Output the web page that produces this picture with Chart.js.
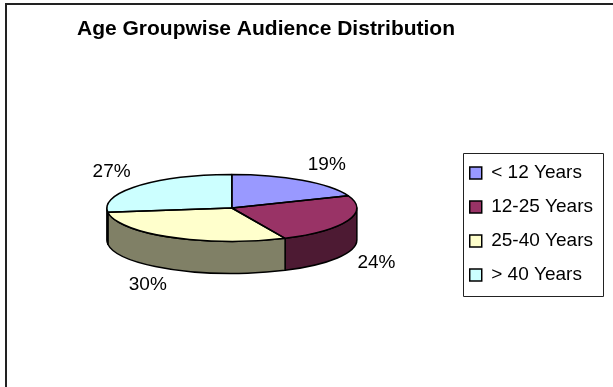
<!DOCTYPE html>
<html>
<head>
<meta charset="utf-8">
<script src="https://cdn.jsdelivr.net/npm/chart.js@4/dist/chart.umd.min.js"></script>
<style>
  html, body { margin: 0; padding: 0; background: #fff; }
  canvas { display: block; }
</style>
</head>
<body>
<canvas id="chart" width="613" height="387"></canvas>
<script>
var AGE_GROUPS = ['< 12 Years', '12-25 Years', '25-40 Years', '> 40 Years'];
var AUDIENCE_SHARE = [19, 24, 30, 27];
var TOP_COLORS = ['#9999FF', '#993366', '#FFFFCC', '#CCFFFF'];
var SIDE_COLORS = ['#4D4D80', '#4D1A33', '#808066', '#668080'];
var TITLE = 'Age Groupwise Audience Distribution';

var FONT = "'Liberation Sans', Arial, sans-serif";
var TILT = 0.268;   // ry / rx of the pie's top face
var DEPTH = 32;     // height of the side wall, px
var TITLE_X = 266, TITLE_Y = 29;

// Squash the pie into an ellipse and lift it by half the wall height.
function topTransform(ctx, arc) {
  ctx.translate(arc.x, arc.y - DEPTH / 2);
  ctx.scale(1, TILT);
  ctx.translate(-arc.x, -arc.y);
}

// Parts of [s, e] that face the viewer (lower half of the ellipse).
function frontRanges(s, e) {
  var out = [];
  [[0, Math.PI], [2 * Math.PI, 3 * Math.PI]].forEach(function (w) {
    var a = Math.max(s, w[0]), b = Math.min(e, w[1]);
    if (b > a) out.push([a, b]);
  });
  return out;
}

// Paths are built under the squashed transform but stroked without it,
// so the outline keeps an even width all the way round.
function strokeOutline(ctx) {
  ctx.lineWidth = 1.5;
  ctx.strokeStyle = '#000';
  ctx.lineJoin = 'round';
  ctx.stroke();
}

var pie3d = {
  id: 'pie3d',
  beforeDraw: function (chart) {
    var ctx = chart.ctx;
    ctx.save();
    ctx.lineWidth = 2;
    ctx.strokeStyle = '#222';
    ctx.strokeRect(6, 4, 640, 420);
    ctx.font = 'bold 21px ' + FONT;
    ctx.fillStyle = '#000';
    ctx.textAlign = 'center';
    ctx.textBaseline = 'middle';
    ctx.fillText(TITLE, TITLE_X, TITLE_Y);
    ctx.restore();
  },
  beforeDatasetsDraw: function (chart) {
    var ctx = chart.ctx;
    var arcs = chart.getDatasetMeta(0).data;
    var off = DEPTH / TILT;
    arcs.forEach(function (arc, i) {
      frontRanges(arc.startAngle, arc.endAngle).forEach(function (r) {
        ctx.save();
        topTransform(ctx, arc);
        ctx.beginPath();
        ctx.arc(arc.x, arc.y, arc.outerRadius, r[0], r[1]);
        ctx.arc(arc.x, arc.y + off, arc.outerRadius, r[1], r[0], true);
        ctx.closePath();
        ctx.restore();
        ctx.fillStyle = SIDE_COLORS[i];
        ctx.fill();
        strokeOutline(ctx);
      });
    });
    ctx.save();
    topTransform(ctx, arcs[0]);
  },
  afterDatasetsDraw: function (chart) {
    var ctx = chart.ctx;
    ctx.restore();
    var arcs = chart.getDatasetMeta(0).data;
    var data = chart.data.datasets[0].data;
    var total = data.reduce(function (a, b) { return a + b; }, 0);

    arcs.forEach(function (arc) {
      ctx.save();
      topTransform(ctx, arc);
      ctx.beginPath();
      ctx.moveTo(arc.x, arc.y);
      ctx.arc(arc.x, arc.y, arc.outerRadius, arc.startAngle, arc.endAngle);
      ctx.closePath();
      ctx.restore();
      strokeOutline(ctx);
    });

    // percentage labels just outside each slice
    ctx.save();
    ctx.font = '19px ' + FONT;
    ctx.fillStyle = '#000';
    ctx.textAlign = 'center';
    ctx.textBaseline = 'middle';
    arcs.forEach(function (arc, i) {
      var mid = (arc.startAngle + arc.endAngle) / 2;
      var c = Math.cos(mid), s = Math.sin(mid);
      var text = Math.round(data[i] / total * 100) + '%';
      var w = ctx.measureText(text).width;
      var x = arc.x + (arc.outerRadius + 10) * c + Math.sign(c) * w / 2;
      var y = arc.y - DEPTH / 2 + (arc.outerRadius * TILT + 10) * s + Math.sign(s) * 7 + (s > 0 ? DEPTH : 0);
      ctx.fillText(text, x, y);
    });
    ctx.restore();
  },
  afterDraw: function (chart) {
    var boxes = chart.legend && chart.legend.legendHitBoxes;
    if (!boxes || !boxes.length) return;
    var ctx = chart.ctx;
    var left = Math.min.apply(null, boxes.map(function (b) { return b.left; })) - 7;
    var right = Math.max.apply(null, boxes.map(function (b) { return b.left + b.width; })) + 10;
    var top = boxes[0].top - 11;
    var last = boxes[boxes.length - 1];
    var bottom = last.top + last.height + 11;
    ctx.save();
    ctx.lineWidth = 1;
    ctx.strokeStyle = '#222';
    ctx.strokeRect(Math.round(left) + 0.5, Math.round(top) + 0.5, Math.round(right - left), Math.round(bottom - top));
    ctx.restore();
  }
};

var pieLabels = Chart.DoughnutController.overrides.plugins.legend.labels.generateLabels;

new Chart(document.getElementById('chart'), {
  type: 'pie',
  data: {
    labels: AGE_GROUPS,
    datasets: [{
      data: AUDIENCE_SHARE,
      backgroundColor: TOP_COLORS,
      borderColor: '#000',
      borderWidth: 0
    }]
  },
  options: {
    responsive: false,
    animation: false,
    events: [],
    radius: 125,
    layout: { padding: { left: 9, right: 10, top: 70, bottom: 9 } },
    plugins: {
      title: { display: false },
      legend: {
        position: 'right',
        align: 'center',
        labels: {
          color: '#000',
          font: { family: FONT, size: 19 },
          boxWidth: 12,
          boxHeight: 12,
          padding: 15,
          generateLabels: function (chart) {
            return pieLabels(chart).map(function (item) {
              item.lineWidth = 1.5;
              item.strokeStyle = '#000';
              return item;
            });
          }
        }
      },
      tooltip: { enabled: false }
    }
  },
  plugins: [pie3d]
});
</script>
</body>
</html>
